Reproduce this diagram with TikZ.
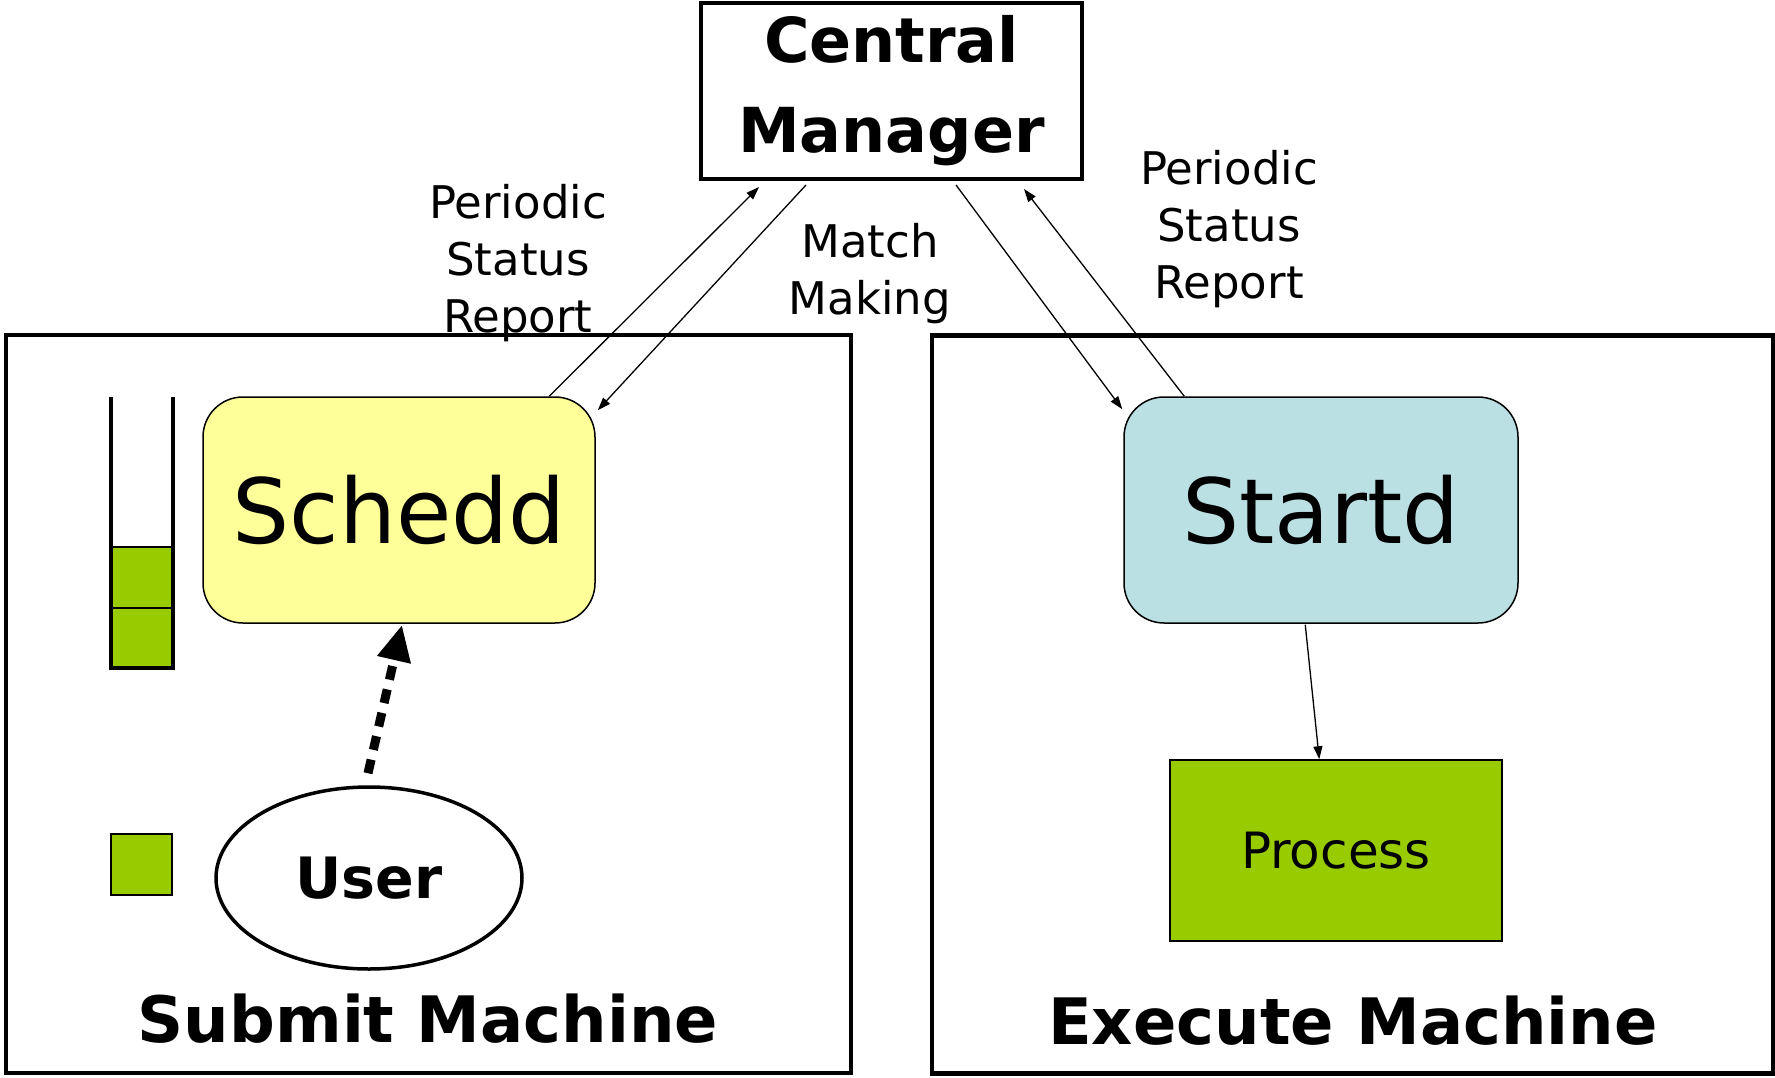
\documentclass[tikz,border=0pt]{standalone}
\usepackage{fontspec}
\setmainfont{DejaVu Sans}
\usetikzlibrary{arrows.meta,shapes.geometric,calc}
\definecolor{scheddfill}{HTML}{FFFF99}
\definecolor{startdfill}{HTML}{BBE0E3}
\definecolor{jobgreen}{HTML}{99CC00}
\tikzset{
  machinebox/.style={draw,line width=4.5pt,minimum width=#1,inner sep=0pt,minimum height=738pt},
  daemonbox/.style={draw,line width=1.5pt,rounded corners=40pt,minimum height=226pt,inner sep=0pt,
    font=\fontsize{90}{100}\selectfont},
  thinarrow/.style={line width=1.3pt,-{Triangle[length=13pt,width=9pt]}},
  lbl/.style={align=center,inner sep=0pt,font=\fontsize{45}{57}\selectfont},
  bigbold/.style={font=\bfseries\fontsize{64}{90}\selectfont}
}
\begin{document}
\begin{tikzpicture}[x=1pt,y=-1pt]
\useasboundingbox (0,0) rectangle (1775,1078);

% machines
\node[machinebox=845pt] (submit) at (428.5,704) {};
\node[machinebox=841pt] (execute) at (1352.5,704.5) {};

% central manager
\node[draw,line width=4pt,minimum width=381pt,minimum height=176pt,inner sep=0pt,align=center,
  font=\bfseries\fontsize{62}{90}\selectfont] (cm) at (891.5,91) {Central\\Manager};

% daemons
\node[daemonbox,fill=scheddfill,minimum width=392pt] (schedd) at (399,510) {Schedd};
\node[daemonbox,fill=startdfill,minimum width=394pt] (startd) at (1321,510) {Startd};
\node[draw,line width=1.5pt,fill=jobgreen,minimum width=332pt,minimum height=181pt,inner sep=0pt,
  font=\fontsize{50}{60}\selectfont] (process) at (1336,850.5) {Process};
\node[draw,ellipse,line width=3.5pt,minimum width=306pt,minimum height=182pt,inner sep=0pt,
  font=\bfseries\fontsize{57}{60}\selectfont] (user) at (369,878) {User};

% job queue
\fill[jobgreen] (111,547) rectangle (173,668);
\draw[line width=2pt] (111,547) -- (173,547) (111,608) -- (173,608);
\draw[line width=4pt] (111,397) -- (111,668) -- (173,668) -- (173,397);
% a single job
\node[draw,line width=1.5pt,fill=jobgreen,minimum width=61pt,minimum height=61pt,inner sep=0pt] (job) at (141.5,864.5) {};

% labels
\node[lbl] (psr1) at (518,263) {Periodic\\Status\\Report};
\node[lbl] (mm) at (870,274) {Match\\Making};
\node[lbl] (psr2) at (1229,229) {Periodic\\Status\\Report};
\node[bigbold] (subtitle) at (428,1019) {Submit Machine};
\node[bigbold] (extitle) at (1353,1021) {Execute Machine};

% connectors
\draw[thinarrow] ($(schedd.north west)+(347,0)$) -- ($(cm.south west)+(60,6)$);
\draw[thinarrow] ($(cm.south west)+(107,4)$) -- ($(schedd.north east)+(2,14)$);
\draw[thinarrow] ($(cm.south west)+(257,4)$) -- ($(startd.north west)+(-1,13)$);
\draw[thinarrow] ($(startd.north west)+(61,0)$) -- ($(cm.south east)+(-60,8)$);
\draw[thinarrow] ($(startd.south west)+(182,1)$) -- ($(process.north west)+(150,0)$);
\draw[line width=9pt,dash pattern=on 14pt off 10pt,-{Triangle[length=36pt,width=32pt]}]
  ($(user.north)+(-1,-12)$) -- ($(schedd.south)+(3,1)$);
\end{tikzpicture}
\end{document}
